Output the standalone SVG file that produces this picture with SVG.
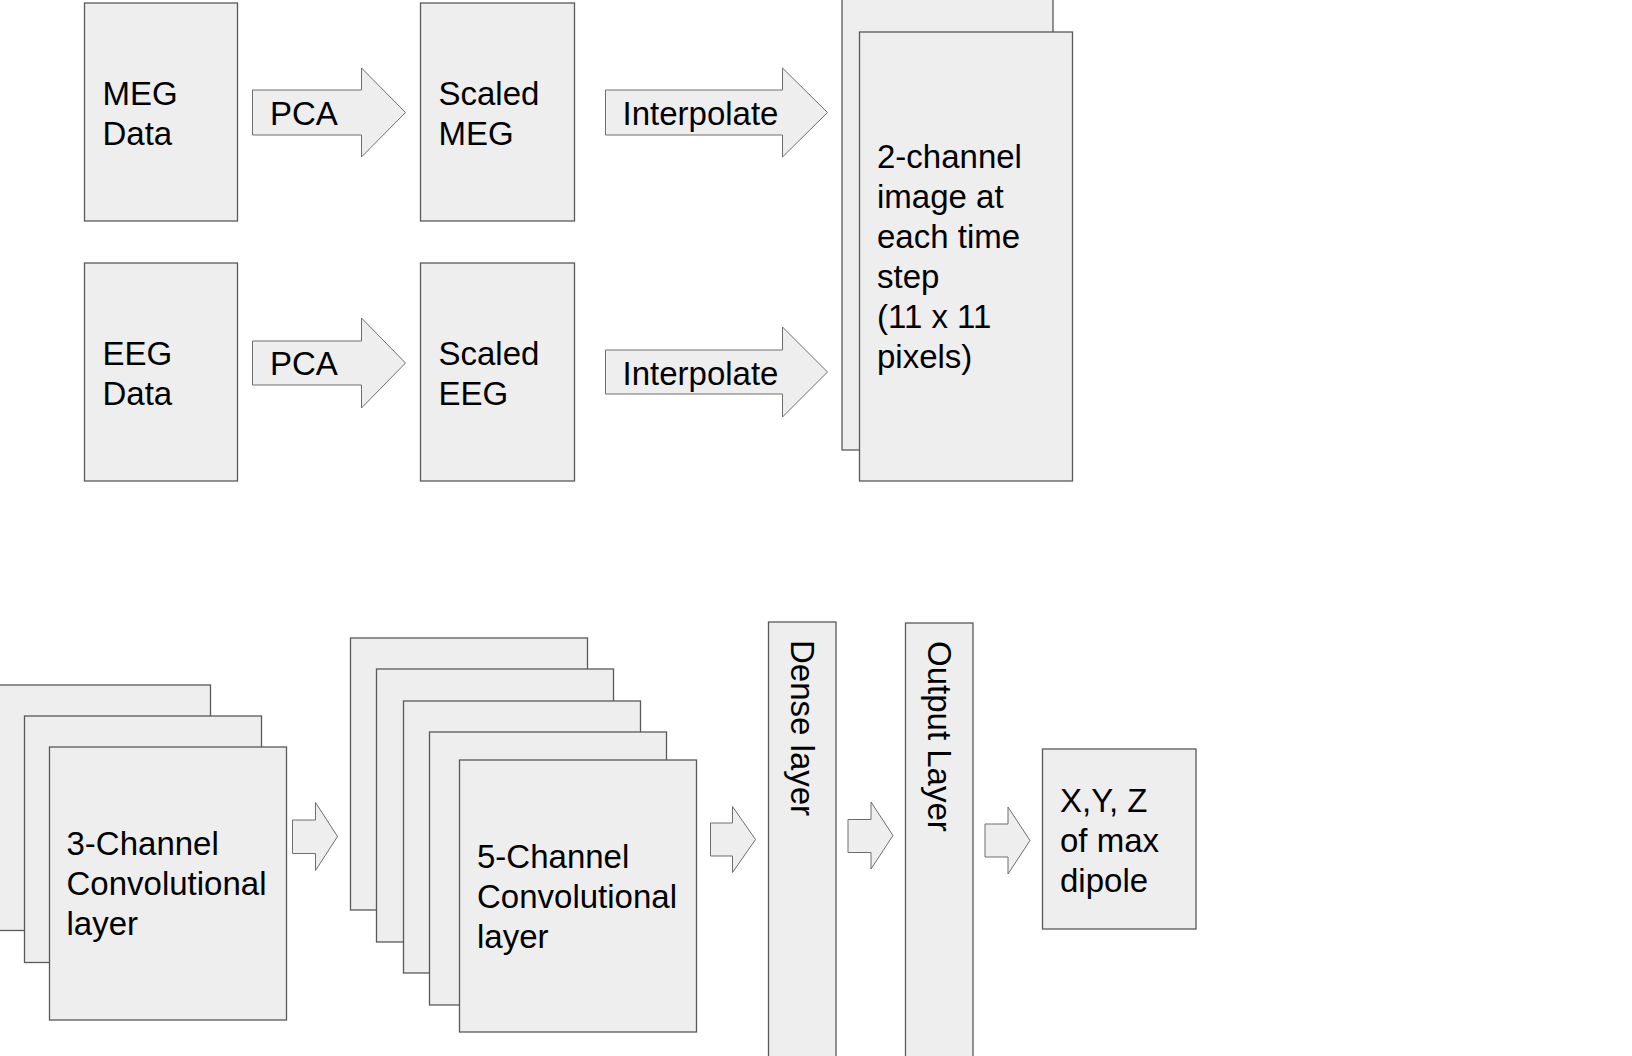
<svg xmlns="http://www.w3.org/2000/svg" width="1632" height="1056" viewBox="0 0 1632 1056">
<style>
.box{fill:#eeeeee;stroke:#595959;stroke-width:1.3}
.arr{fill:#eeeeee;stroke:#6e6e6e;stroke-width:1}
text{font-family:"Liberation Sans",Arial,sans-serif;font-size:33px;fill:#000000}
</style>
<rect width="1632" height="1056" fill="#ffffff"/>
<g id="meg-data">
<rect class="box" x="84.5" y="3" width="153" height="218"/>
<text x="102.5" y="105">MEG</text><text x="102.5" y="145">Data</text>
</g>
<g id="scaled-meg">
<rect class="box" x="420.5" y="3" width="154" height="218"/>
<text x="438.5" y="105">Scaled</text><text x="438.5" y="145">MEG</text>
</g>
<g id="eeg-data">
<rect class="box" x="84.5" y="263" width="153" height="218"/>
<text x="102.5" y="364.5">EEG</text><text x="102.5" y="404.5">Data</text>
</g>
<g id="scaled-eeg">
<rect class="box" x="420.5" y="263" width="154" height="218"/>
<text x="438.5" y="364.5">Scaled</text><text x="438.5" y="404.5">EEG</text>
</g>
<g id="image-2ch">
<rect class="box" x="842" y="-10" width="211" height="460"/>
<rect class="box" x="859.5" y="32" width="213" height="449"/>
<text x="877" y="168">2-channel</text>
<text x="877" y="208">image at</text>
<text x="877" y="248">each time</text>
<text x="877" y="288">step</text>
<text x="877" y="328">(11 x 11</text>
<text x="877" y="368">pixels)</text>
</g>
<g id="conv-3ch">
<rect class="box" x="-26.5" y="685" width="237" height="245.5"/>
<rect class="box" x="24.5" y="716" width="237" height="246.5"/>
<rect class="box" x="49.5" y="747" width="237" height="273"/>
<text x="66.5" y="855">3-Channel</text>
<text x="66.5" y="895">Convolutional</text>
<text x="66.5" y="935">layer</text>
</g>
<g id="conv-5ch">
<rect class="box" x="350.5" y="638" width="237" height="272"/>
<rect class="box" x="376.5" y="669" width="237" height="273"/>
<rect class="box" x="403.5" y="701" width="237" height="272"/>
<rect class="box" x="429.5" y="732" width="237" height="273"/>
<rect class="box" x="459.5" y="760" width="237" height="272"/>
<text x="477" y="868">5-Channel</text>
<text x="477" y="908">Convolutional</text>
<text x="477" y="948">layer</text>
</g>
<g id="dense-layer">
<rect class="box" x="768.5" y="622" width="67.5" height="460"/>
<text transform="translate(791,640) rotate(90)">Dense layer</text>
</g>
<g id="output-layer">
<rect class="box" x="905.5" y="623" width="67.5" height="460"/>
<text transform="translate(928,641) rotate(90)">Output Layer</text>
</g>
<g id="xyz-output">
<rect class="box" x="1042.5" y="749" width="153.5" height="180"/>
<text x="1060" y="811.5">X,Y, Z</text>
<text x="1060" y="851.5">of max</text>
<text x="1060" y="891.5">dipole</text>
</g>
<g id="connectors">
<g id="pca-meg">
<polygon class="arr" points="252.5,90 361.5,90 361.5,68 405.5,112.5 361.5,157 361.5,135 252.5,135"/>
<text x="270" y="125">PCA</text>
</g>
<g id="pca-eeg">
<polygon class="arr" points="252.5,341 361.5,341 361.5,318 405.5,363 361.5,408 361.5,385 252.5,385"/>
<text x="270" y="375">PCA</text>
</g>
<g id="interp-meg">
<polygon class="arr" points="605.5,90 782.5,90 782.5,68 827.5,112.5 782.5,157 782.5,135 605.5,135"/>
<text x="622.5" y="125">Interpolate</text>
</g>
<g id="interp-eeg">
<polygon class="arr" points="605.5,350 782.5,350 782.5,327 827.5,372 782.5,417 782.5,394 605.5,394"/>
<text x="622.5" y="384.5">Interpolate</text>
</g>
<polygon class="arr" points="292.5,820 315.5,820 315.5,802.5 337.5,836.5 315.5,870.5 315.5,853.5 292.5,853.5"/>
<polygon class="arr" points="710.5,823 732.5,823 732.5,806.5 755.5,839.5 732.5,872.5 732.5,856 710.5,856"/>
<polygon class="arr" points="848,819.5 871,819.5 871,802 893,835.5 871,869 871,852.5 848,852.5"/>
<polygon class="arr" points="985,824 1008,824 1008,807 1030,840.5 1008,874 1008,857 985,857"/>
</g>
</svg>
